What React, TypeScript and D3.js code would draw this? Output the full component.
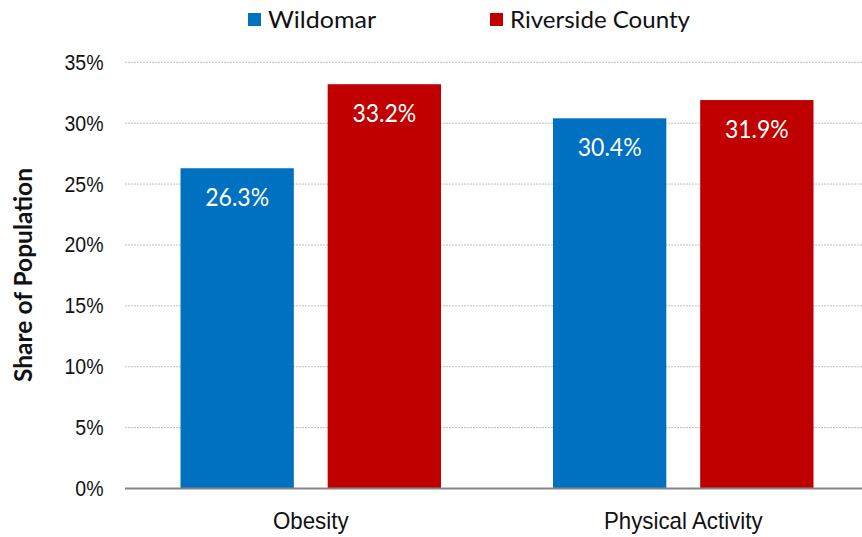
import React from "react";
import * as d3 from "d3";

const categories = ["Obesity", "Physical Activity"];
const seriesNames = ["Wildomar", "Riverside County"];
const wildomar = [26.3, 30.4];
const riverside = [33.2, 31.9];
const yTicks = [0, 5, 10, 15, 20, 25, 30, 35];
const colors = ["#0070C0", "#C00000"];

const W = 862;
const H = 537;

export default function App() {
  const x0 = d3.scaleBand<string>().domain(categories).range([124.5, 869.5]).paddingInner(0).paddingOuter(0);
  const x1 = d3.scaleBand<string>().domain(seriesNames).range([56, x0.bandwidth() - 56]).paddingInner(0.23);
  const y = d3.scaleLinear().domain([0, 35]).range([488.5, 62.3]);
  const values = [wildomar, riverside];
  const numFont = "Lato, 'Open Sans', sans-serif";
  const axisFont = "'Liberation Sans', Arial, sans-serif";
  const legendX = [248, 490];
  const legendLen = [108, 180];

  return (
    <svg width={W} height={H} style={{ position: "absolute", left: 0, top: 0, display: "block" }}>
      <rect width={W} height={H} fill="#fff" />
      {yTicks.filter((t) => t > 0).map((t) => (
        <line key={"g" + t} x1={125} x2={W} y1={y(t)} y2={y(t)} stroke="#bfbfbf" strokeWidth={1} strokeDasharray="2,1" />
      ))}
      {yTicks.map((t) => (
        <text key={"t" + t} x={103.5} y={y(t) + 7.5} textAnchor="end" fontFamily={axisFont} fontSize={21} fill="#111" transform={`translate(103.5,${y(t) + 7.5}) scale(0.93,1.03) translate(-103.5,${-(y(t) + 7.5)})`}>
          {t}%
        </text>
      ))}
      {categories.map((c, ci) =>
        seriesNames.map((s, si) => {
          const v = values[si][ci];
          const bx = (x0(c) as number) + (x1(s) as number);
          const bw = x1.bandwidth();
          const ly = y(v) + 37.5;
          const lx = bx + bw / 2;
          return (
            <g key={c + s}>
              <rect x={bx} y={y(v)} width={bw} height={y(0) - y(v)} fill={colors[si]} />
              <text x={lx} y={ly} textAnchor="middle" fontFamily={numFont} fontSize={23} fill="#fff" transform={`translate(${lx},${ly}) scale(1,1.05) translate(${-lx},${-ly})`}>
                {v.toFixed(1)}%
              </text>
            </g>
          );
        })
      )}
      <line x1={125} x2={W} y1={y(0)} y2={y(0)} stroke="#868686" strokeWidth={2} />
      {categories.map((c) => {
        const cx = (x0(c) as number) + x0.bandwidth() / 2;
        return (
          <text key={"c" + c} x={cx} y={529} textAnchor="middle" fontFamily={axisFont} fontSize={22.3} fill="#111" transform={`translate(${cx},529) scale(1,1.1) translate(${-cx},-529)`}>
            {c}
          </text>
        );
      })}
      <text transform="translate(32,275) rotate(-90)" textAnchor="middle" fontFamily={numFont} fontWeight="bold" fontSize={24} textLength={214} lengthAdjust="spacingAndGlyphs" fill="#111">
        Share of Population
      </text>
      {seriesNames.map((s, i) => {
        const lx = legendX[i];
        return (
          <g key={"l" + s}>
            <rect x={lx} y={13} width={13} height={13} fill={colors[i]} />
            <text x={lx + 20} y={28} fontFamily={numFont} fontSize={24} textLength={legendLen[i]} lengthAdjust="spacingAndGlyphs" fill="#111">
              {s}
            </text>
          </g>
        );
      })}
    </svg>
  );
}
